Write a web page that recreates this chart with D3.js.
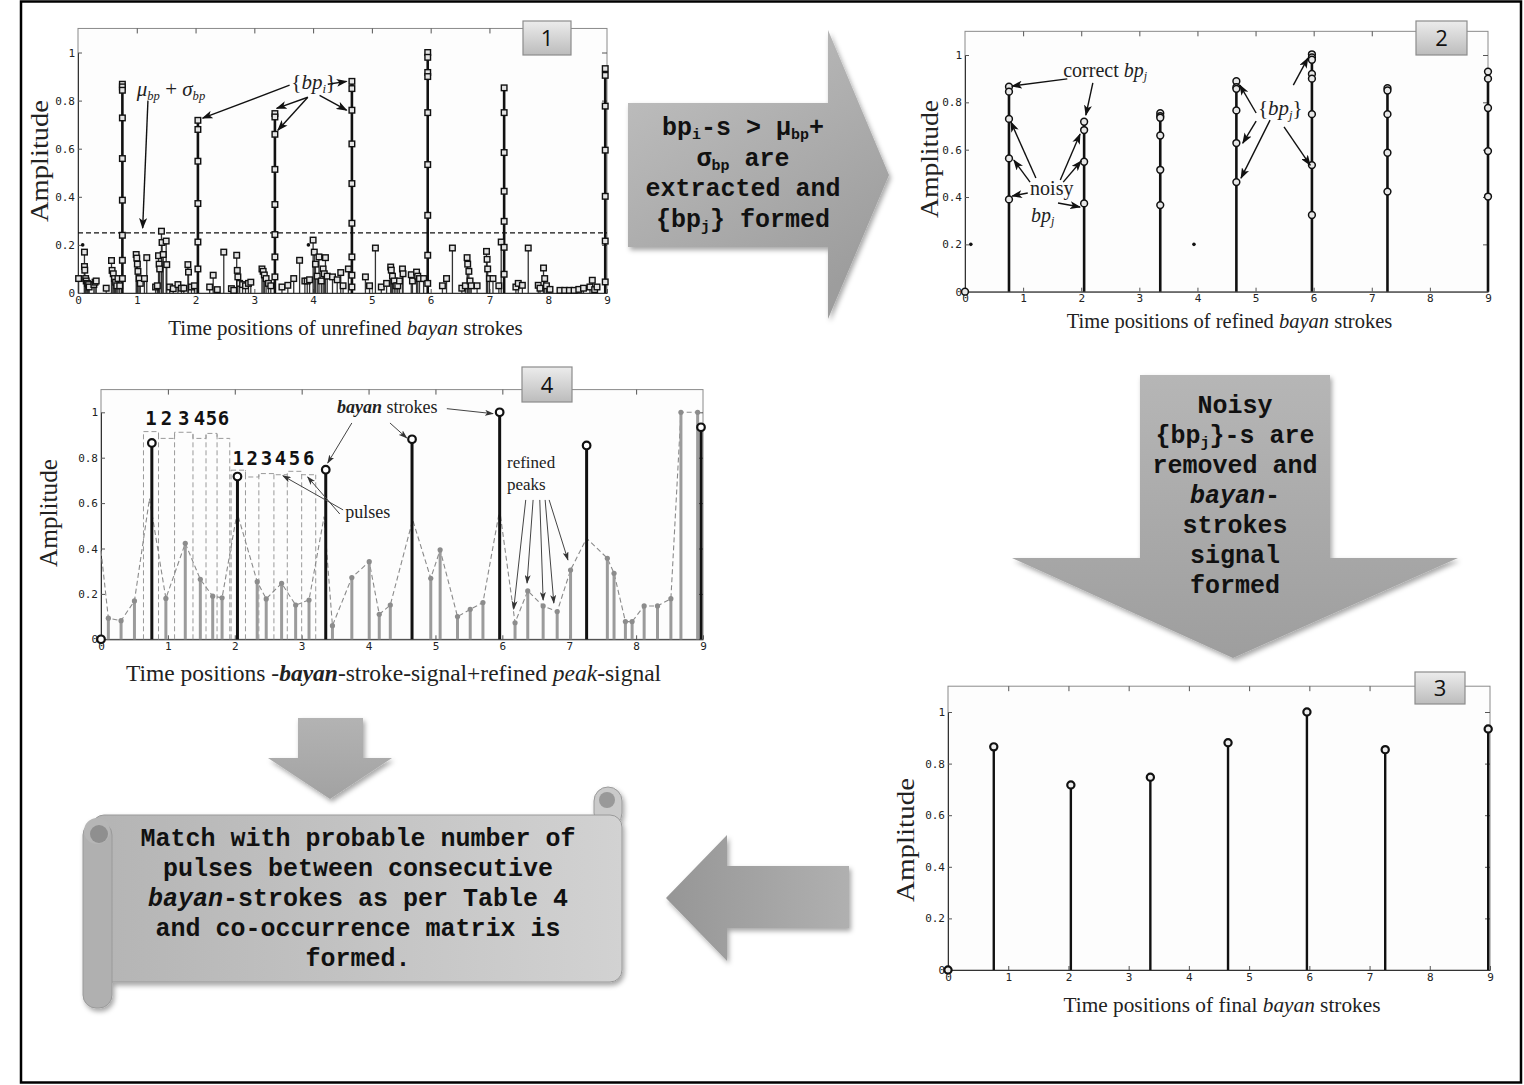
<!DOCTYPE html>
<html lang="en">
<head>
  <meta charset="UTF-8">
  <title>Bayan stroke refinement</title>
  <script src="https://cdn.jsdelivr.net/npm/d3@7/dist/d3.min.js"></script>
  <style>
    body { margin: 0; background: #fff; }
    svg { display: block; }
    .tick text { font-family: "DejaVu Sans Mono", monospace; font-size: 11px; fill: #222; }
    .tick line { stroke: #555; }
    .serif { font-family: "Liberation Serif", "Times New Roman", serif; fill: #222; }
    .mono { font-family: "Liberation Mono", "Courier New", monospace; font-weight: bold; fill: #111; }
  </style>
</head>
<body>
  <svg id="fig" width="1524" height="1085"></svg>
  <script>
    // ---- data ----
    const xTicks = [0, 1, 2, 3, 4, 5, 6, 7, 8, 9];
    const yTicks = [0, 0.2, 0.4, 0.6, 0.8, 1];
    const yMax = 1.1;

    // 1: unrefined bayan strokes (big stems, each with its {bp_i} markers)
    const rawStrokeX = [0.755, 2.04, 3.35, 4.66, 5.95, 7.25, 8.97];
    const rawStrokeMarks = [
      [0.868, 0.857, 0.843, 0.728, 0.559, 0.386, 0.24, 0.136, 0.06],
      [0.718, 0.68, 0.548, 0.372, 0.212, 0.1],
      [0.746, 0.732, 0.66, 0.514, 0.368, 0.243, 0.15, 0.067],
      [0.88, 0.85, 0.76, 0.62, 0.455, 0.29, 0.15, 0.074, 0.025],
      [1.0, 0.98, 0.917, 0.9, 0.75, 0.534, 0.323, 0.157, 0.04],
      [0.853, 0.75, 0.584, 0.423, 0.298, 0.19, 0.078],
      [0.933, 0.905, 0.777, 0.594, 0.402, 0.216, 0.046]
    ];
    // 1: small noisy peaks [time, amplitude]
    const noisePeaks = [
      [0.01, 0.06], [0.11, 0.17], [0.11, 0.11], [0.115, 0.095], [0.13, 0.06], [0.14, 0.05], [0.16, 0.04],
      [0.18, 0.035], [0.19, 0.025], [0.27, 0.035], [0.29, 0.045], [0.31, 0.05], [0.48, 0.02], [0.57, 0.135],
      [0.58, 0.094], [0.6, 0.08], [0.62, 0.06], [0.64, 0.045], [0.66, 0.03], [0.68, 0.06], [0.71, 0.03],
      [0.99, 0.16], [1.0, 0.145], [1.01, 0.12], [1.02, 0.09], [1.04, 0.06], [1.06, 0.04], [1.13, 0.06],
      [1.17, 0.147], [1.32, 0.025], [1.35, 0.03], [1.37, 0.155], [1.38, 0.12], [1.39, 0.1], [1.42, 0.257],
      [1.43, 0.21], [1.45, 0.16], [1.5, 0.216], [1.51, 0.118], [1.56, 0.025], [1.62, 0.018], [1.7, 0.035],
      [1.76, 0.02], [1.8, 0.02], [1.87, 0.118], [1.88, 0.087], [1.93, 0.025], [1.98, 0.03], [2.24, 0.025],
      [2.3, 0.074], [2.37, 0.014], [2.48, 0.17], [2.61, 0.018], [2.65, 0.011], [2.7, 0.157], [2.71, 0.094],
      [2.72, 0.067], [2.75, 0.04], [2.8, 0.035], [2.85, 0.03], [2.9, 0.04], [2.94, 0.045], [3.13, 0.1],
      [3.15, 0.09], [3.17, 0.075], [3.2, 0.06], [3.24, 0.04], [3.28, 0.03], [3.47, 0.025], [3.57, 0.032],
      [3.67, 0.06], [3.77, 0.136], [3.86, 0.05], [3.9, 0.05], [3.94, 0.055], [4.0, 0.22], [4.02, 0.17],
      [4.04, 0.12], [4.07, 0.07], [4.1, 0.15], [4.14, 0.05], [4.17, 0.1], [4.19, 0.08], [4.21, 0.147],
      [4.24, 0.07], [4.33, 0.067], [4.41, 0.055], [4.47, 0.085], [4.51, 0.03], [4.6, 0.1], [4.89, 0.067],
      [4.96, 0.03], [5.06, 0.187], [5.16, 0.025], [5.25, 0.04], [5.32, 0.108], [5.33, 0.095], [5.35, 0.07],
      [5.38, 0.05], [5.41, 0.03], [5.44, 0.03], [5.47, 0.05], [5.52, 0.1], [5.53, 0.08], [5.67, 0.076],
      [5.69, 0.05], [5.76, 0.087], [5.78, 0.07], [5.81, 0.06], [5.88, 0.06], [6.2, 0.03], [6.27, 0.06],
      [6.37, 0.187], [6.53, 0.02], [6.59, 0.03], [6.62, 0.147], [6.63, 0.12], [6.65, 0.09], [6.67, 0.05],
      [6.69, 0.03], [6.79, 0.03], [6.95, 0.173], [6.96, 0.14], [6.97, 0.1], [7.0, 0.06], [7.06, 0.06],
      [7.16, 0.03], [7.2, 0.212], [7.45, 0.025], [7.49, 0.04], [7.56, 0.032], [7.66, 0.187], [7.83, 0.032],
      [7.86, 0.02], [7.92, 0.104], [7.94, 0.06], [7.97, 0.03], [8.03, 0.015], [8.2, 0.011], [8.28, 0.011],
      [8.36, 0.011], [8.44, 0.011], [8.52, 0.015], [8.6, 0.02], [8.71, 0.025], [8.75, 0.053], [8.79, 0.014],
      [8.83, 0.025]
    ];
    const threshold = 0.25; // mu_bp + sigma_bp
    const strayDots = [[0.08, 0.2], [3.92, 0.2]];

    // 2: refined strokes, {bp_j} markers
    const refinedX = [0.757, 2.05, 3.36, 4.67, 5.97, 7.27, 9.0];
    const refinedMarks = [
      [0.866, 0.845, 0.73, 0.563, 0.39],
      [0.718, 0.683, 0.549, 0.373],
      [0.754, 0.742, 0.735, 0.66, 0.515, 0.366],
      [0.889, 0.864, 0.857, 0.766, 0.628, 0.463],
      [1.003, 0.99, 0.98, 0.92, 0.9, 0.75, 0.535, 0.324],
      [0.86, 0.85, 0.75, 0.587, 0.423],
      [0.93, 0.9, 0.776, 0.594, 0.402]
    ];

    // 3 and 4: final bayan strokes
    const finalX = [0.76, 2.04, 3.36, 4.65, 5.96, 7.26, 8.97];
    const finalY = [0.865, 0.717, 0.747, 0.881, 1.0, 0.854, 0.934];

    // 4: refined peak signal
    const peakX = [0.11, 0.3, 0.5, 0.97, 1.26, 1.485, 1.67, 1.81, 2.335, 2.47, 2.7, 2.91, 3.11, 3.46, 3.75,
      4.01, 4.16, 4.325, 4.93, 5.07, 5.33, 5.52, 5.71, 6.19, 6.38, 6.61, 6.82, 7.02, 7.57, 7.67, 7.84, 7.94,
      8.12, 8.32, 8.52, 8.67, 8.92];
    const peakY = [0.093, 0.082, 0.169, 0.18, 0.423, 0.264, 0.19, 0.183, 0.254, 0.178, 0.247, 0.151, 0.173,
      0.06, 0.272, 0.342, 0.11, 0.151, 0.269, 0.394, 0.1, 0.132, 0.162, 0.073, 0.213, 0.147, 0.122, 0.305,
      0.357, 0.291, 0.078, 0.078, 0.147, 0.147, 0.179, 1.0, 1.0];
    // 4: dashed envelope through the peaks
    const envX = [0, 0.11, 0.3, 0.5, 0.725, 0.97, 1.26, 1.485, 1.67, 1.81, 2.035, 2.335, 2.47, 2.7, 2.91,
      3.11, 3.335, 3.46, 3.75, 4.01, 4.16, 4.325, 4.66, 4.93, 5.07, 5.33, 5.52, 5.71, 5.96, 6.19, 6.38, 6.61,
      6.82, 7.02, 7.26, 7.57, 7.67, 7.84, 7.94, 8.12, 8.32, 8.52, 8.67, 8.92];
    const envY = [0.39, 0.093, 0.082, 0.169, 0.62, 0.18, 0.423, 0.264, 0.19, 0.183, 0.558, 0.254, 0.178,
      0.247, 0.151, 0.173, 0.54, 0.06, 0.272, 0.342, 0.11, 0.151, 0.526, 0.269, 0.394, 0.1, 0.132, 0.162,
      0.57, 0.073, 0.213, 0.147, 0.122, 0.305, 0.445, 0.357, 0.291, 0.078, 0.078, 0.147, 0.147, 0.179, 1.0, 1.0];
    // 4: pulses between consecutive strokes
    const pulseLabels = ['1', '2', '3', '4', '5', '6'];
    const pulseEdgesA = [0.635, 0.86, 1.1, 1.375, 1.57, 1.735, 1.925];
    const pulseTopsA = [0.915, 0.885, 0.912, 0.885, 0.907, 0.885];
    const pulseEdgesB = [1.945, 2.16, 2.36, 2.585, 2.785, 3.0, 3.21];
    const pulseTopsB = [0.745, 0.715, 0.73, 0.725, 0.74, 0.725];

    // annotation arrows, in data units [fromX, fromY, toX, toY]
    const arrows1 = [[1.19, 0.8, 1.1, 0.27], [3.6, 0.864, 2.12, 0.727], [3.91, 0.814, 3.38, 0.768],
      [3.91, 0.814, 3.4, 0.677], [4.25, 0.868, 4.57, 0.88], [4.11, 0.822, 4.57, 0.76]];
    const arrows2 = [[1.76, 0.899, 0.81, 0.869], [2.2, 0.882, 2.08, 0.746], [1.22, 0.48, 0.79, 0.717],
      [1.12, 0.463, 0.84, 0.556], [1.08, 0.417, 0.81, 0.404], [1.64, 0.472, 1.98, 0.666],
      [1.69, 0.463, 2.0, 0.552], [1.6, 0.375, 1.98, 0.358], [5.01, 0.755, 4.73, 0.873],
      [5.01, 0.721, 4.78, 0.628], [5.25, 0.725, 4.75, 0.48], [5.65, 0.873, 5.9, 0.987],
      [5.49, 0.696, 5.94, 0.535]];
    const arrows4 = [[5.17, 1.016, 5.86, 0.994], [3.75, 0.953, 3.39, 0.777], [4.32, 0.953, 4.57, 0.887],
      [3.62, 0.57, 2.72, 0.72], [3.57, 0.552, 3.09, 0.715], [6.35, 0.614, 6.17, 0.134],
      [6.46, 0.614, 6.37, 0.248], [6.56, 0.614, 6.61, 0.173], [6.64, 0.614, 6.77, 0.16],
      [6.7, 0.614, 6.98, 0.35]];

    // ---- drawing ----
    const svg = d3.select('#fig');
    const defs = svg.append('defs');

    const linGrad = (id, x2, y2, stops) => {
      const gr = defs.append('linearGradient').attr('id', id)
        .attr('x1', 0).attr('y1', 0).attr('x2', x2).attr('y2', y2);
      stops.forEach((c, i) => gr.append('stop')
        .attr('offset', i / (stops.length - 1)).attr('stop-color', c));
    };
    linGrad('gRight', 0.6, 1, ['#c2c2c2', '#9d9d9d']);
    linGrad('gDown', 0, 1, ['#b6b6b6', '#9e9e9e']);
    linGrad('gLeft', 1, 0, ['#969696', '#b0b0b0']);
    linGrad('gSmall', 0, 1, ['#b3b3b3', '#a2a2a2']);
    linGrad('gScroll', 1, 0, ['#b4b4b4', '#d2d2d2']);
    linGrad('gBox', 0, 1, ['#ececec', '#bcbcbc']);

    defs.append('filter').attr('id', 'shadow')
      .attr('x', '-10%').attr('y', '-10%').attr('width', '130%').attr('height', '130%')
      .append('feDropShadow').attr('dx', 2).attr('dy', 3).attr('stdDeviation', 2.5)
      .attr('flood-color', '#000').attr('flood-opacity', 0.35);

    const arrowHead = (id, color, w, h) => defs.append('marker').attr('id', id)
      .attr('markerUnits', 'userSpaceOnUse').attr('markerWidth', w).attr('markerHeight', h)
      .attr('refX', w - 1).attr('refY', h / 2).attr('orient', 'auto')
      .append('path').attr('d', `M0,0 L${w},${h / 2} L0,${h} L${w * 0.25},${h / 2} Z`).attr('fill', color);
    arrowHead('headBlack', '#111', 11, 8);
    arrowHead('headGrey', '#333', 9, 6);

    // outer frame
    svg.append('rect').attr('x', 21).attr('y', 1.5).attr('width', 1500).attr('height', 1081)
      .attr('fill', 'none').attr('stroke', '#000').attr('stroke-width', 2.5);

    // rich text: segments of [text, flags] with flags i=italic b=bold s=subscript
    function rich(parent, x, y, segs, cls, size, anchor) {
      const t = parent.append('text').attr('x', x).attr('y', y).attr('class', cls)
        .attr('font-size', size).attr('text-anchor', anchor || 'start');
      let shift = 0;
      segs.forEach(([txt, f = '']) => {
        const sp = t.append('tspan').text(txt);
        const want = f.includes('s') ? Math.round(size * 0.17) : 0;
        if (want !== shift) { sp.attr('dy', want - shift); shift = want; }
        if (f.includes('s')) sp.attr('font-size', size * 0.6);
        if (f.includes('i')) sp.attr('font-style', 'italic');
        if (f.includes('b')) sp.attr('font-weight', 'bold');
      });
      return t;
    }

    function makePanel(p) {
      const x = d3.scaleLinear().domain([0, 9]).range([p.left, p.right]);
      const y = d3.scaleLinear().domain([0, 1]).range([p.zero, p.one]);
      const top = y(yMax), bottom = y(0);
      const g = svg.append('g');
      g.append('rect').attr('x', p.left).attr('y', top)
        .attr('width', p.right - p.left).attr('height', bottom - top)
        .attr('fill', '#fdfdfd').attr('stroke', '#8a8a8a').attr('stroke-width', 1);

      g.append('g').attr('transform', `translate(0,${top})`)
        .call(d3.axisTop(x).tickValues(xTicks.slice(1, -1)).tickSizeInner(-5).tickSizeOuter(0).tickFormat(''))
        .select('.domain').remove();
      g.append('g').attr('transform', `translate(${p.right},0)`)
        .call(d3.axisRight(y).tickValues(yTicks.slice(1)).tickSizeInner(-5).tickSizeOuter(0).tickFormat(''))
        .select('.domain').remove();
      g.append('g').attr('transform', `translate(0,${bottom})`)
        .call(d3.axisBottom(x).tickValues(xTicks).tickSizeInner(-4).tickSizeOuter(0).tickPadding(3))
        .select('.domain').attr('stroke', '#333');
      g.append('g').attr('transform', `translate(${p.left},0)`)
        .call(d3.axisLeft(y).tickValues(yTicks).tickSizeInner(-4).tickSizeOuter(0).tickPadding(3)
          .tickFormat(d => String(d)))
        .select('.domain').attr('stroke', '#333');

      // axis titles
      rich(g, p.xLabelX, p.xLabelY, p.xLabel, 'serif', p.xLabelSize, 'middle');
      g.append('text').attr('class', 'serif').attr('font-size', 25).attr('text-anchor', 'middle')
        .attr('transform', `translate(${p.yLabelX},${p.yLabelY}) rotate(-90)`)
        .attr('textLength', p.yLabelLen).attr('lengthAdjust', 'spacingAndGlyphs')
        .text('Amplitude');
      return { g, x, y };
    }

    function drawArrows(panel, list, color, width, head) {
      panel.g.selectAll(null).data(list).enter().append('line')
        .attr('x1', d => panel.x(d[0])).attr('y1', d => panel.y(d[1]))
        .attr('x2', d => panel.x(d[2])).attr('y2', d => panel.y(d[3]))
        .attr('stroke', color).attr('stroke-width', width)
        .attr('marker-end', `url(#${head})`);
    }

    function numberBox(x, y, w, h, label) {
      svg.append('rect').attr('x', x).attr('y', y).attr('width', w).attr('height', h)
        .attr('fill', 'url(#gBox)').attr('stroke', '#8c8c8c').attr('stroke-width', 1.2);
      svg.append('text').attr('x', x + w / 2).attr('y', y + h / 2 + 8).attr('text-anchor', 'middle')
        .attr('font-family', '"Open Sans", "Noto Sans", sans-serif').attr('font-size', 22)
        .attr('fill', '#111').text(label);
    }

    // ===== panel 1 =====
    const p1 = makePanel({
      left: 78, right: 607, zero: 293, one: 52.5,
      xLabel: [['Time positions of unrefined '], ['bayan', 'i'], [' strokes']],
      xLabelX: 345.5, xLabelY: 335, xLabelSize: 21,
      yLabelX: 48, yLabelY: 161, yLabelLen: 122
    });
    p1.g.append('g').selectAll('line').data(noisePeaks).enter().append('line')
      .attr('x1', d => p1.x(d[0])).attr('x2', d => p1.x(d[0]))
      .attr('y1', p1.y(0)).attr('y2', d => p1.y(d[1]))
      .attr('stroke', '#333').attr('stroke-width', 1.3);
    p1.g.append('line')
      .attr('x1', p1.x(0)).attr('x2', p1.x(9)).attr('y1', p1.y(threshold)).attr('y2', p1.y(threshold))
      .attr('stroke', '#111').attr('stroke-width', 1.4).attr('stroke-dasharray', '5,3');
    p1.g.append('g').selectAll('line').data(rawStrokeX).enter().append('line')
      .attr('x1', d => p1.x(d)).attr('x2', d => p1.x(d))
      .attr('y1', p1.y(0)).attr('y2', (d, i) => p1.y(d3.max(rawStrokeMarks[i])))
      .attr('stroke', '#111').attr('stroke-width', 2.6);
    const rawSquares = noisePeaks.map(d => ({ x: d[0], y: d[1] }))
      .concat(rawStrokeX.flatMap((sx, i) => rawStrokeMarks[i].map(v => ({ x: sx, y: v }))));
    p1.g.append('g').selectAll('rect').data(rawSquares).enter().append('rect')
      .attr('x', d => p1.x(d.x) - 2.8).attr('y', d => p1.y(d.y) - 2.8)
      .attr('width', 5.6).attr('height', 5.6)
      .attr('fill', '#e4e4e4').attr('stroke', '#111').attr('stroke-width', 1.4);
    p1.g.append('g').selectAll('circle').data(strayDots).enter().append('circle')
      .attr('cx', d => p1.x(d[0])).attr('cy', d => p1.y(d[1])).attr('r', 1.8).attr('fill', '#111');
    rich(p1.g, p1.x(1.0), p1.y(0.82),
      [['μ', 'i'], ['bp', 'is'], [' + '], ['σ', 'i'], ['bp', 'is']], 'serif', 21);
    rich(p1.g, p1.x(3.63), p1.y(0.85), [['{'], ['bp', 'i'], ['i', 'is'], ['}']], 'serif', 21);
    drawArrows(p1, arrows1, '#111', 1.4, 'headBlack');
    numberBox(523, 21, 48, 34, '1');

    // ===== panel 2 =====
    const p2 = makePanel({
      left: 965, right: 1488, zero: 291.7, one: 55,
      xLabel: [['Time positions of refined '], ['bayan', 'i'], [' strokes']],
      xLabelX: 1229.5, xLabelY: 328, xLabelSize: 20.5,
      yLabelX: 938, yLabelY: 159, yLabelLen: 118
    });
    p2.g.append('g').selectAll('line').data(refinedX).enter().append('line')
      .attr('x1', d => p2.x(d)).attr('x2', d => p2.x(d))
      .attr('y1', p2.y(0)).attr('y2', (d, i) => p2.y(d3.max(refinedMarks[i])))
      .attr('stroke', '#111').attr('stroke-width', 2.6);
    const refinedRings = [{ x: 0, y: 0 }]
      .concat(refinedX.flatMap((sx, i) => refinedMarks[i].map(v => ({ x: sx, y: v }))));
    p2.g.append('g').selectAll('circle').data(refinedRings).enter().append('circle')
      .attr('cx', d => p2.x(d.x)).attr('cy', d => p2.y(d.y)).attr('r', 3.4)
      .attr('fill', '#e8e8e8').attr('stroke', '#111').attr('stroke-width', 1.5);
    p2.g.append('g').selectAll('circle').data(strayDots).enter().append('circle')
      .attr('cx', d => p2.x(d[0] + 0.02)).attr('cy', d => p2.y(d[1])).attr('r', 1.8).attr('fill', '#111');
    rich(p2.g, p2.x(1.69), p2.y(0.907), [['correct '], ['bp', 'i'], ['j', 'is']], 'serif', 20);
    rich(p2.g, p2.x(1.12), p2.y(0.41), [['noisy']], 'serif', 20);
    rich(p2.g, p2.x(1.135), p2.y(0.295), [['bp', 'i'], ['j', 'is']], 'serif', 20);
    rich(p2.g, p2.x(5.04), p2.y(0.746), [['{'], ['bp', 'i'], ['j', 'is'], ['}']], 'serif', 21);
    drawArrows(p2, arrows2, '#111', 1.4, 'headBlack');
    numberBox(1416, 21, 51, 34, '2');

    // ===== panel 4 =====
    const p4 = makePanel({
      left: 101, right: 703, zero: 639.3, one: 412.3,
      xLabel: [['Time positions -'], ['bayan', 'bi'], ['-stroke-signal+refined '], ['peak', 'i'], ['-signal']],
      xLabelX: 393.5, xLabelY: 681, xLabelSize: 23.5,
      yLabelX: 57, yLabelY: 513, yLabelLen: 108
    });
    const pulseGroups = [[pulseEdgesA, pulseTopsA, 0.944], [pulseEdgesB, pulseTopsB, 0.768]];
    pulseGroups.forEach(([edges, tops, labelY]) => {
      const grp = p4.g.append('g').attr('stroke', '#9a9a9a').attr('stroke-width', 1)
        .attr('stroke-dasharray', '5,3').attr('fill', 'none');
      grp.selectAll('line').data(edges).enter().append('line')
        .attr('x1', d => p4.x(d)).attr('x2', d => p4.x(d)).attr('y1', p4.y(0))
        .attr('y2', (d, i) => p4.y(d3.max([tops[Math.max(i - 1, 0)], tops[Math.min(i, tops.length - 1)]])));
      const step = [];
      tops.forEach((t, i) => { step.push([edges[i], t], [edges[i + 1], t]); });
      grp.append('path').attr('d', d3.line().x(d => p4.x(d[0])).y(d => p4.y(d[1]))(step));
      p4.g.append('g').selectAll('text').data(pulseLabels).enter().append('text')
        .attr('x', (d, i) => p4.x((edges[i] + edges[i + 1]) / 2)).attr('y', p4.y(labelY))
        .attr('text-anchor', 'middle').attr('font-family', '"DejaVu Sans Mono", monospace')
        .attr('font-weight', 'bold').attr('font-size', 19).attr('fill', '#111').text(d => d);
    });
    p4.g.append('path')
      .attr('d', d3.line().x(d => p4.x(d)).y((d, i) => p4.y(envY[i]))(envX))
      .attr('fill', 'none').attr('stroke', '#8a8a8a').attr('stroke-width', 1.1).attr('stroke-dasharray', '5,3');
    p4.g.append('g').selectAll('line').data(peakX).enter().append('line')
      .attr('x1', d => p4.x(d)).attr('x2', d => p4.x(d))
      .attr('y1', p4.y(0)).attr('y2', (d, i) => p4.y(peakY[i]))
      .attr('stroke', '#9b9b9b').attr('stroke-width', 3);
    p4.g.append('g').selectAll('circle').data(peakX).enter().append('circle')
      .attr('cx', d => p4.x(d)).attr('cy', (d, i) => p4.y(peakY[i])).attr('r', 2.6).attr('fill', '#8c8c8c');
    p4.g.append('g').selectAll('line').data(finalX).enter().append('line')
      .attr('x1', d => p4.x(d)).attr('x2', d => p4.x(d))
      .attr('y1', p4.y(0)).attr('y2', (d, i) => p4.y(finalY[i]))
      .attr('stroke', '#111').attr('stroke-width', 3);
    p4.g.append('g').selectAll('circle').data([0].concat(finalX)).enter().append('circle')
      .attr('cx', d => p4.x(d)).attr('cy', (d, i) => p4.y(i === 0 ? 0 : finalY[i - 1])).attr('r', 3.8)
      .attr('fill', '#fff').attr('stroke', '#111').attr('stroke-width', 2.2);
    rich(p4.g, p4.x(3.53), p4.y(0.997), [['bayan', 'bi'], [' strokes']], 'serif', 18);
    rich(p4.g, p4.x(3.65), p4.y(0.534), [['pulses']], 'serif', 18);
    rich(p4.g, p4.x(6.07), p4.y(0.754), [['refined']], 'serif', 17);
    rich(p4.g, p4.x(6.07), p4.y(0.657), [['peaks']], 'serif', 17);
    drawArrows(p4, arrows4, '#444', 1, 'headGrey');
    numberBox(522, 367, 50, 35, '4');

    // ===== panel 3 =====
    const p3 = makePanel({
      left: 948, right: 1490, zero: 970, one: 712,
      xLabel: [['Time positions of final '], ['bayan', 'i'], [' strokes']],
      xLabelX: 1222, xLabelY: 1012, xLabelSize: 21.3,
      yLabelX: 914, yLabelY: 840, yLabelLen: 124
    });
    p3.g.append('g').selectAll('line').data(finalX).enter().append('line')
      .attr('x1', d => p3.x(d)).attr('x2', d => p3.x(d))
      .attr('y1', p3.y(0)).attr('y2', (d, i) => p3.y(finalY[i]))
      .attr('stroke', '#111').attr('stroke-width', 2.4);
    p3.g.append('g').selectAll('circle').data([0].concat(finalX)).enter().append('circle')
      .attr('cx', d => p3.x(d)).attr('cy', (d, i) => p3.y(i === 0 ? 0 : finalY[i - 1])).attr('r', 3.6)
      .attr('fill', '#eee').attr('stroke', '#111').attr('stroke-width', 2.2);
    numberBox(1415, 672, 50, 32, '3');

    // ===== block arrows and scroll =====
    const blocks = svg.append('g').attr('filter', 'url(#shadow)');
    blocks.append('path').attr('d', 'M628,103 L828,103 L828,30 L889,175 L828,319 L828,247 L628,247 Z')
      .attr('fill', 'url(#gRight)');
    blocks.append('path').attr('d', 'M1140,375 L1330,375 L1330,558 L1458,558 L1233,658 L1012,558 L1140,558 Z')
      .attr('fill', 'url(#gDown)');
    blocks.append('path').attr('d', 'M849,866 L727,866 L727,835 L666,898 L727,961 L727,928 L849,928 Z')
      .attr('fill', 'url(#gLeft)');
    blocks.append('path').attr('d', 'M298,718 L363,718 L363,758 L392,758 L330,799 L268,758 L298,758 Z')
      .attr('fill', 'url(#gSmall)');

    const scroll = svg.append('g').attr('filter', 'url(#shadow)');
    scroll.append('rect').attr('x', 594).attr('y', 787).attr('width', 28).attr('height', 40).attr('rx', 14)
      .attr('fill', '#cacaca').attr('stroke', '#9a9a9a');
    scroll.append('rect').attr('x', 92).attr('y', 815).attr('width', 530).attr('height', 167).attr('rx', 12)
      .attr('fill', 'url(#gScroll)').attr('stroke', '#9a9a9a');
    scroll.append('rect').attr('x', 83).attr('y', 822).attr('width', 29).attr('height', 186).attr('rx', 13)
      .attr('fill', '#b0b0b0').attr('stroke', '#9a9a9a');
    scroll.append('circle').attr('cx', 97).attr('cy', 831).attr('r', 13).attr('fill', '#b6b6b6');
    scroll.append('circle').attr('cx', 99).attr('cy', 834).attr('r', 9).attr('fill', '#8f8f8f');
    scroll.append('circle').attr('cx', 607).attr('cy', 800).attr('r', 8).attr('fill', '#999');

    const monoLines = (cx, y0, dy, lines) => lines.forEach((segs, i) =>
      rich(svg, cx, y0 + i * dy, segs, 'mono', 25, 'middle'));
    monoLines(743, 135, 30.5, [
      [['bp'], ['i', 's'], ['-s > μ'], ['bp', 's'], ['+']],
      [['σ'], ['bp', 's'], [' are']],
      [['extracted and']],
      [['{bp'], ['j', 's'], ['} formed']]
    ]);
    monoLines(1235, 413, 30, [
      [['Noisy']],
      [['{bp'], ['j', 's'], ['}-s are']],
      [['removed and']],
      [['bayan', 'i'], ['-']],
      [['strokes']],
      [['signal']],
      [['formed']]
    ]);
    monoLines(358, 846, 30, [
      [['Match with probable number of']],
      [['pulses between consecutive']],
      [['bayan', 'i'], ['-strokes as per Table 4']],
      [['and co-occurrence matrix is']],
      [['formed.']]
    ]);
  </script>
</body>
</html>
